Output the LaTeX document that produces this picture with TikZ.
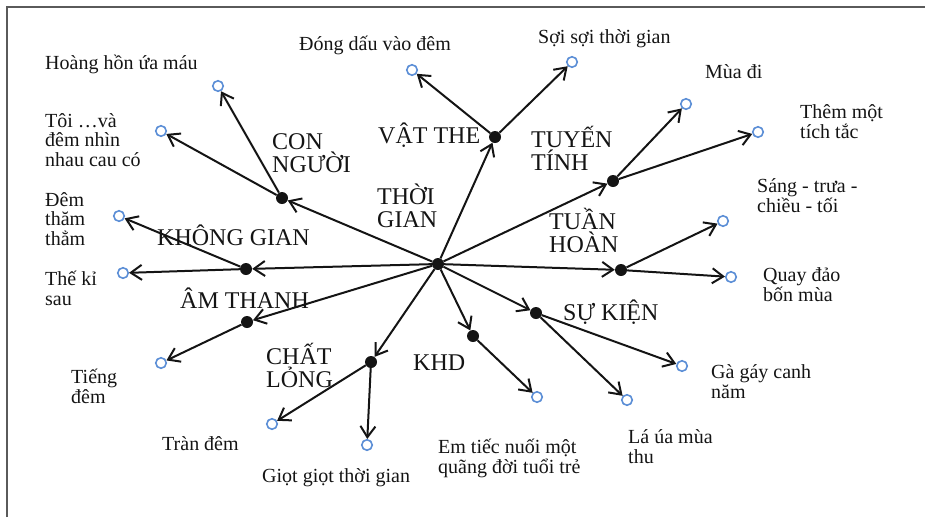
\documentclass[tikz,border=0pt]{standalone}
\usepackage{fontspec}
\setmainfont{Liberation Serif}
\usetikzlibrary{arrows.meta}
\definecolor{ink}{HTML}{141414}
\definecolor{ringblue}{HTML}{5B8ED6}
\definecolor{framegray}{HTML}{5A5A5A}

\begin{document}
\begin{tikzpicture}[x=1pt,y=-1pt,
  hubdot/.style={circle,fill=ink,inner sep=0,minimum size=12pt},
  leafring/.style={circle,draw=ringblue,line width=1.6pt,fill=white,inner sep=0,minimum size=10.5pt},
  link/.style={draw=ink,line width=2pt,-{Straight Barb[length=11pt,width=15pt]}},
  cat/.style={font=\fontsize{24}{22.5}\selectfont,text=ink,anchor=base west,align=left,inner sep=0},
  leaf/.style={font=\fontsize{20}{19.5}\selectfont,text=ink,anchor=base west,align=left,inner sep=0},
]
\useasboundingbox (0,0) rectangle (925,517);

% page frame (only its top and left edges fall inside the picture)
\draw[framegray,line width=1.8pt] (7,517) -- (7,7) -- (925,7);

% centre and branch points
\node[hubdot] (hub) at (438,264) {};
\node[hubdot] (cn) at (282,198) {};
\node[hubdot] (vt) at (495,137) {};
\node[hubdot] (tt) at (613,181) {};
\node[hubdot] (th) at (621,270) {};
\node[hubdot] (sk) at (536,313) {};
\node[hubdot] (khd) at (473,336) {};
\node[hubdot] (cl) at (371,362) {};
\node[hubdot] (at) at (247,322) {};
\node[hubdot] (kg) at (246,269) {};

% end points
\node[leafring] (l1) at (218,86) {};
\node[leafring] (l2) at (161,131) {};
\node[leafring] (l3) at (119,216) {};
\node[leafring] (l4) at (123,273) {};
\node[leafring] (l5) at (161,363) {};
\node[leafring] (l6) at (272,424) {};
\node[leafring] (l7) at (367,445) {};
\node[leafring] (l8) at (537,397) {};
\node[leafring] (l9) at (627,400) {};
\node[leafring] (l10) at (682,366) {};
\node[leafring] (l11) at (731,277) {};
\node[leafring] (l12) at (723,221) {};
\node[leafring] (l13) at (758,132) {};
\node[leafring] (l14) at (686,104) {};
\node[leafring] (l15) at (572,62) {};
\node[leafring] (l16) at (412,70) {};

% spokes from the centre
\foreach \b in {cn,vt,tt,th,sk,khd,cl,at,kg}
  \draw[link] (hub) -- (\b);

% branches to the end points
\draw[link] (cn) -- (l1);
\draw[link] (cn) -- (l2);
\draw[link] (kg) -- (l3);
\draw[link] (kg) -- (l4);
\draw[link] (at) -- (l5);
\draw[link] (cl) -- (l6);
\draw[link] (cl) -- (l7);
\draw[link] (khd) -- (l8);
\draw[link] (sk) -- (l9);
\draw[link] (sk) -- (l10);
\draw[link] (th) -- (l11);
\draw[link] (th) -- (l12);
\draw[link] (tt) -- (l13);
\draw[link] (tt) -- (l14);
\draw[link] (vt) -- (l15);
\draw[link] (vt) -- (l16);

% category labels (anchored on the baseline of their last line)
\node[cat] (tcn) at (272,172) {CON\\NGƯỜI};
\node[cat] (tvt) at (378,143) {VẬT THE};
\node[cat] (ttt) at (531,170) {TUYẾN\\TÍNH};
\node[cat] (ttg) at (377,227) {THỜI\\GIAN};
\node[cat] (tth) at (549,252) {TUẦN\\HOÀN};
\node[cat] (tkg) at (157,245) {KHÔNG GIAN};
\node[cat] (tat) at (180,308) {ÂM THANH};
\node[cat] (tcl) at (266,387) {CHẤT\\LỎNG};
\node[cat] (tkhd) at (413,370) {KHD};
\node[cat] (tsk) at (563,320) {SỰ KIỆN};

% end point labels (anchored on the baseline of their last line)
\node[leaf] (t1) at (45,69) {Hoàng hồn ứa máu};
\node[leaf] (t2) at (45,166) {Tôi …và\\đêm nhìn\\nhau cau có};
\node[leaf] (t3) at (45,245) {Đêm\\thăm\\thẳm};
\node[leaf] (t4) at (45,305) {Thế kỉ\\sau};
\node[leaf] (t5) at (71,403) {Tiếng\\đêm};
\node[leaf] (t6) at (162,450) {Tràn đêm};
\node[leaf] (t7) at (262,482) {Giọt giọt thời gian};
\node[leaf] (t8) at (438,473) {Em tiếc nuối một\\quãng đời tuổi trẻ};
\node[leaf] (t9) at (628,463) {Lá úa mùa\\thu};
\node[leaf] (t10) at (711,398) {Gà gáy canh\\năm};
\node[leaf] (t11) at (763,301) {Quay đảo\\bốn mùa};
\node[leaf] (t12) at (757,212) {Sáng - trưa -\\chiều - tối};
\node[leaf] (t13) at (800,138) {Thêm một\\tích tắc};
\node[leaf] (t14) at (705,78) {Mùa đi};
\node[leaf] (t15) at (538,43) {Sợi sợi thời gian};
\node[leaf] (t16) at (299,50) {Đóng dấu vào đêm};
\end{tikzpicture}
\end{document}
